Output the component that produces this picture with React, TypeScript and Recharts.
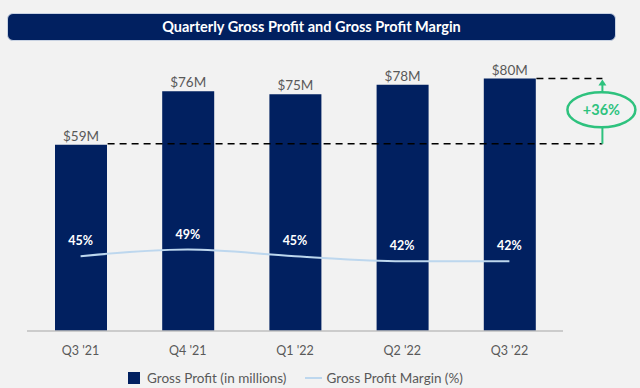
import React from 'react';
import { ComposedChart, Bar, Line, XAxis, YAxis, LabelList, ReferenceLine } from 'recharts';

const categories = ["Q3 '21", "Q4 '21", "Q1 '22", "Q2 '22", "Q3 '22"];
const grossProfit = [59, 76, 75, 78, 80];
const grossMargin = [45, 49, 45, 42, 42];
const seriesNames = ['Gross Profit (in millions)', 'Gross Profit Margin (%)'];
const title = 'Quarterly Gross Profit and Gross Profit Margin';

const NAVY = '#012060';
const LINE = '#bdd7ee';
const GREEN = '#2ec27e';
const GRAY = '#595959';
const FONT = 'Lato, "Open Sans", sans-serif';
const BAR_SIZE = 52;

const data = categories.map((q, i) => ({ quarter: q, profit: grossProfit[i], margin: grossMargin[i] }));

const growthPct = Math.round((grossProfit[grossProfit.length - 1] / grossProfit[0] - 1) * 100);

const GrowthShape = (props: any) => {
  const { x1, y1, x2, y2 } = props;
  const half = BAR_SIZE / 2;
  const xEnd = x2 + half + 67;
  const rx = 34;
  const ry = 17.5;
  const cy = (y1 + y2) / 2 - 2;
  const cx = xEnd - 1;
  return (
    <g>
      <line x1={x1 + half + 1} y1={y1 - 1} x2={xEnd} y2={y1 - 1} stroke="#000" strokeWidth={1.6} strokeDasharray="7 5" />
      <line x1={x2 + half + 1} y1={y2} x2={xEnd} y2={y2} stroke="#000" strokeWidth={1.6} strokeDasharray="7 5" />
      <line x1={xEnd} y1={y1 - 1} x2={xEnd} y2={cy + ry} stroke={GREEN} strokeWidth={2} />
      <line x1={xEnd} y1={cy - ry} x2={xEnd} y2={y2 + 6} stroke={GREEN} strokeWidth={2} />
      <polygon points={`${xEnd - 4},${y2 + 7} ${xEnd + 4},${y2 + 7} ${xEnd},${y2 + 1}`} fill={GREEN} />
      <ellipse cx={cx} cy={cy} rx={rx} ry={ry} fill="#f2f2f2" stroke={GREEN} strokeWidth={2.5} />
      <text x={cx} y={cy} textAnchor="middle" dominantBaseline="central" fill={GREEN} fontSize={14.5} fontWeight={700} fontFamily={FONT}>
        {`+${growthPct}%`}
      </text>
    </g>
  );
};

export default function App() {
  return (
    <div style={{ position: 'absolute', left: 0, top: 0, width: 640, height: 388, background: '#f2f2f2', overflow: 'hidden', fontFamily: FONT }}>
      <div
        style={{
          position: 'absolute', left: 7, top: 13, width: 609, height: 28, boxSizing: 'border-box',
          background: NAVY, borderRadius: 6, border: '1px solid #c8d2e2', color: '#fff',
          fontWeight: 700, fontSize: 14.5, lineHeight: '26px', textAlign: 'center', fontFamily: FONT,
        }}
      >
        {title}
      </div>
      <div style={{ position: 'absolute', left: 0, top: 0 }}>
        <ComposedChart width={640} height={388} data={data} margin={{ top: 47, right: 77, bottom: 27, left: 27 }}>
          <XAxis
            dataKey="quarter"
            tickLine={false}
            tickSize={6}
            tickMargin={9}
            height={30}
            axisLine={{ stroke: '#bfbfbf', strokeWidth: 1.5 }}
            tick={{ fill: GRAY, fontSize: 12.5, fontFamily: FONT }}
          />
          <YAxis yAxisId="left" hide domain={[0, 90]} />
          <YAxis yAxisId="right" orientation="right" hide domain={[0, 171]} />
          <ReferenceLine
            yAxisId="left"
            segment={[{ x: categories[0], y: grossProfit[0] }, { x: categories[categories.length - 1], y: grossProfit[grossProfit.length - 1] }]}
            shape={GrowthShape}
          />
          <Bar yAxisId="left" dataKey="profit" name={seriesNames[0]} fill={NAVY} barSize={BAR_SIZE} isAnimationActive={false}>
            <LabelList dataKey="profit" position="top" offset={4} fill={GRAY} fontSize={13.5} fontFamily={FONT} formatter={(v: any) => `$${v}M`} />
          </Bar>
          <Line yAxisId="right" type="monotone" dataKey="margin" name={seriesNames[1]} stroke={LINE} strokeWidth={2} dot={false} isAnimationActive={false}>
            <LabelList dataKey="margin" position="top" offset={11} fill="#ffffff" fontSize={12.5} fontWeight={700} fontFamily={FONT} formatter={(v: any) => `${v}%`} />
          </Line>
        </ComposedChart>
      </div>
      <div style={{ position: 'absolute', left: 128, top: 370, display: 'flex', alignItems: 'center', fontSize: 13.5, lineHeight: '16px', color: GRAY, fontFamily: FONT, whiteSpace: 'nowrap' }}>
        <span style={{ display: 'inline-block', width: 12, height: 12, background: NAVY, marginRight: 7 }} />
        <span style={{ marginRight: 19 }}>{seriesNames[0]}</span>
        <span style={{ display: 'inline-block', width: 17, height: 2, background: LINE, marginRight: 4 }} />
        <span>{seriesNames[1]}</span>
      </div>
    </div>
  );
}
